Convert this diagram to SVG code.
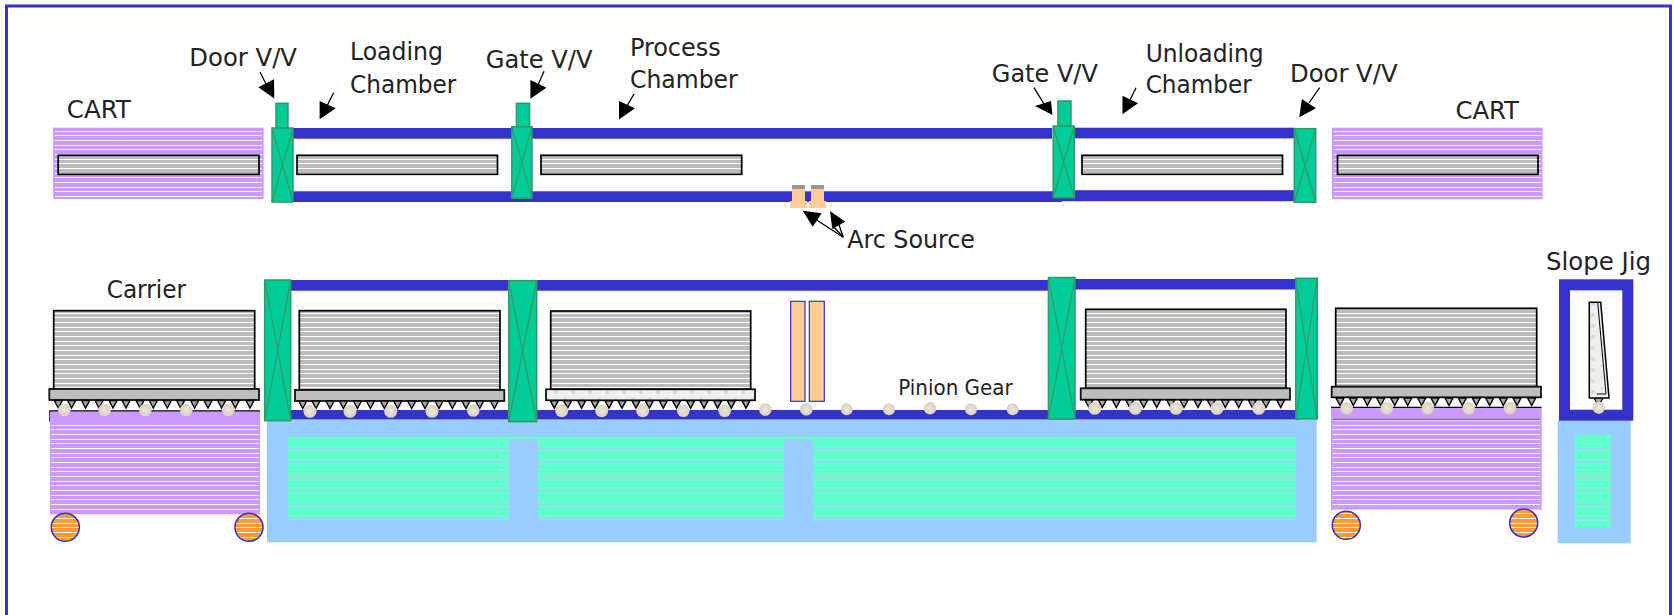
<svg xmlns="http://www.w3.org/2000/svg" xmlns:xlink="http://www.w3.org/1999/xlink" width="1674" height="615" viewBox="0 0 1674 615">
<style>
text{font-family:"DejaVu Sans Condensed","DejaVu Sans","Noto Sans",sans-serif;font-size:25px;fill:#222}
.bar{fill:#3333cc}
.valve{fill:#00cc99;stroke:#339966;stroke-width:1.5}
.x{fill:none;stroke:#339966;stroke-width:1.2}
.purple{fill:#cc99ff}
.blue{fill:#99ccff}
.wafer{fill:url(#gl);stroke:#000;stroke-width:1.7}
.plate{fill:#bdbdbd;stroke:#111;stroke-width:1.8}
.plateM{fill:url(#mott);stroke:#000;stroke-width:1.7}
.gear{fill:url(#gg)}
.wheel{fill:url(#ol);stroke:#3333cc;stroke-width:1.6}
.tan{fill:#ffcc99}
.target{fill:#ffcc99;stroke:#3333cc;stroke-width:1.2}
.head{fill:#000}
.shaft{stroke:#000;stroke-width:1.3;fill:none}
.tooth{fill:#a8a8a8;stroke:#000;stroke-width:1.4}
</style>
<defs>
<pattern id="pl" patternUnits="userSpaceOnUse" width="10" height="14"><rect width="10" height="14" fill="#cc99ff"/><rect y="0" width="10" height="1" fill="#fff"/><rect y="5" width="10" height="1" fill="#fff"/><rect y="9" width="10" height="1" fill="#fff"/></pattern>
<pattern id="gl" patternUnits="userSpaceOnUse" width="10" height="14"><rect width="10" height="14" fill="#bcbcbc"/><rect y="0" width="10" height="1" fill="#fff"/><rect y="5" width="10" height="1" fill="#fff"/><rect y="9" width="10" height="1" fill="#fff"/></pattern>
<pattern id="gnl" patternUnits="userSpaceOnUse" width="10" height="14"><rect width="10" height="14" fill="#66ffcc"/><rect y="0" width="10" height="1" fill="#8fdcec"/><rect y="5" width="10" height="1" fill="#8fdcec"/><rect y="9" width="10" height="1" fill="#8fdcec"/></pattern>
<pattern id="ol" patternUnits="userSpaceOnUse" width="10" height="14"><rect width="10" height="14" fill="#ff9933"/><rect y="0" width="10" height="1" fill="#fff"/><rect y="5" width="10" height="1" fill="#fff"/><rect y="9" width="10" height="1" fill="#fff"/></pattern>
<pattern id="mott" patternUnits="userSpaceOnUse" width="17" height="11"><rect width="17" height="11" fill="#efefef"/><circle cx="4" cy="3" r="1.6" fill="#dcdcdc"/><circle cx="12" cy="7" r="2" fill="#d8d8d8"/><circle cx="8" cy="9" r="1" fill="#fff"/></pattern>
<radialGradient id="gg"><stop offset="0" stop-color="#ece7dd"/><stop offset="0.75" stop-color="#ddd5c6"/><stop offset="1" stop-color="#d9d1c2"/></radialGradient>
<g id="teeth">
<polygon class="tooth" points="-4,0 4,0 0,7.5"/><polygon class="tooth" points="9.3,0 17.3,0 13.3,7.5"/><polygon class="tooth" points="23.3,0 31.3,0 27.3,7.5"/><polygon class="tooth" points="36.7,0 44.7,0 40.7,7.5"/><polygon class="tooth" points="50.7,0 58.7,0 54.7,7.5"/><polygon class="tooth" points="63.7,0 71.7,0 67.7,7.5"/><polygon class="tooth" points="77.7,0 85.7,0 81.7,7.5"/><polygon class="tooth" points="91,0 99,0 95,7.5"/><polygon class="tooth" points="105,0 113,0 109,7.5"/><polygon class="tooth" points="118.3,0 126.3,0 122.3,7.5"/><polygon class="tooth" points="132.3,0 140.3,0 136.3,7.5"/><polygon class="tooth" points="145.7,0 153.7,0 149.7,7.5"/><polygon class="tooth" points="159.3,0 167.3,0 163.3,7.5"/><polygon class="tooth" points="173,0 181,0 177,7.5"/><polygon class="tooth" points="187.7,0 195.7,0 191.7,7.5"/>
</g>
</defs>
<rect width="1674" height="615" fill="#fff"/>
<rect id="frame" x="6.5" y="6" width="1664" height="640" fill="none" stroke="#3333cc" stroke-width="3"/>

<g id="upper-chamber">
<rect class="bar" x="292" y="128" width="760" height="10.7"/>
<rect class="bar" x="292" y="191.3" width="770" height="10.7"/>
<rect class="bar" x="1074" y="127.7" width="221" height="10.7"/>
<rect class="bar" x="1062" y="190.2" width="233" height="11"/>
</g>
<g id="cart-top-left"><rect class="purple" x="53.2" y="127.7" width="210.4" height="71.3"/><rect fill="url(#pl)" x="55" y="129" width="207" height="69"/><rect class="wafer" x="58.2" y="155.3" width="200.8" height="19"/></g>
<g id="cart-top-right"><rect class="purple" x="1332" y="127.7" width="210.5" height="71.5"/><rect fill="url(#pl)" x="1334" y="129" width="207" height="69"/><rect class="wafer" x="1337.5" y="155.3" width="200.5" height="19"/></g>
<g id="wafer-loading"><rect class="wafer" x="297" y="155.3" width="200.5" height="19"/></g>
<g id="wafer-process"><rect class="wafer" x="541" y="155.3" width="200.7" height="19"/></g>
<g id="wafer-unloading"><rect class="wafer" x="1082" y="155.3" width="200.5" height="19"/></g>
<g id="door-vv-left"><rect class="valve" x="276" y="103.3" width="12" height="24.7"/><rect class="valve" x="272" y="128" width="21" height="74"/><path class="x" d="M272,128L293,202M293,128L272,202"/></g>
<g id="gate-vv-left"><rect class="valve" x="516.4" y="103.3" width="13.2" height="23.4"/><rect class="valve" x="511.8" y="126.7" width="20.2" height="71.6"/><path class="x" d="M511.8,126.7L532,198.3M532,126.7L511.8,198.3"/></g>
<g id="gate-vv-right"><rect class="valve" x="1057.9" y="101" width="13.1" height="25"/><rect class="valve" x="1053.2" y="126" width="21.1" height="71.7"/><path class="x" d="M1053.2,126L1074.3,197.7M1074.3,126L1053.2,197.7"/></g>
<g id="door-vv-right"><rect class="valve" x="1294.3" y="128.7" width="21.4" height="73.6"/><path class="x" d="M1294.3,128.7L1315.7,202.3M1315.7,128.7L1294.3,202.3"/></g>
<g id="arc-source">
<rect x="792" y="185" width="13" height="4" fill="#999"/><rect class="tan" x="792" y="189" width="13" height="12"/><rect class="tan" x="790" y="201" width="17" height="7"/>
<rect x="811" y="185" width="13" height="4" fill="#999"/><rect class="tan" x="811" y="189" width="13" height="12"/><rect class="tan" x="809" y="201" width="17" height="7"/>
</g>

<g id="base">
<rect class="blue" x="267" y="419.7" width="1049.7" height="122.6"/>
<rect fill="url(#gnl)" x="288" y="436.7" width="1008" height="83.3"/>
<rect class="blue" x="509" y="439" width="28.7" height="81"/>
<rect class="blue" x="784" y="439" width="29" height="81"/>
</g>
<g id="lower-chamber">
<rect class="bar" x="285" y="280" width="765" height="10.7"/>
<rect class="bar" x="1074" y="279" width="224" height="10.5"/>
<rect class="bar" x="285" y="410" width="1015" height="9.5"/>
</g>
<g id="target"><rect class="target" x="790.7" y="301.3" width="14.3" height="100"/><rect class="target" x="809.3" y="301.3" width="15" height="100"/></g>

<g id="cart-lower-left">
<path d="M50,421.7V411H259V419" fill="none" stroke="#000" stroke-width="1.5"/>
<rect class="purple" x="50" y="411.7" width="210" height="102.6"/><rect fill="url(#pl)" x="51.5" y="422" width="207" height="91"/>
<circle class="wheel" cx="65.3" cy="527.3" r="14"/><circle class="wheel" cx="249" cy="527.3" r="14"/>
</g>
<g id="carrier-a">
<rect class="wafer" x="53.7" y="310.7" width="201" height="78.3"/><rect class="plate" x="49.3" y="389" width="209.7" height="11"/>
<use xlink:href="#teeth" href="#teeth" x="58.3" y="400.5"/>
<circle class="gear" cx="64.3" cy="410" r="6.3"/><circle class="gear" cx="104.7" cy="410" r="6.3"/><circle class="gear" cx="145.3" cy="410" r="6.3"/><circle class="gear" cx="186.3" cy="410" r="6.3"/><circle class="gear" cx="228.3" cy="410" r="6.3"/>
</g>
<g id="carrier-b">
<rect class="wafer" x="299.3" y="310.7" width="200.7" height="79.3"/><rect class="plate" x="295" y="390" width="209.3" height="11"/>
<use xlink:href="#teeth" href="#teeth" x="302.7" y="401"/>
<circle class="gear" cx="310" cy="411.3" r="6.5"/><circle class="gear" cx="350" cy="411.3" r="6.5"/><circle class="gear" cx="390.7" cy="411.3" r="6.5"/><circle class="gear" cx="432" cy="411.3" r="6.5"/><circle class="gear" cx="473.3" cy="410.5" r="6.3"/>
</g>
<g id="carrier-c">
<rect class="wafer" x="550.7" y="311" width="200" height="78.3"/><rect class="plateM" x="546" y="389.3" width="209" height="11"/>
<use xlink:href="#teeth" href="#teeth" x="554.3" y="400.7"/>
<circle class="gear" cx="561.7" cy="410.7" r="6.5"/><circle class="gear" cx="601.7" cy="410.7" r="6.5"/><circle class="gear" cx="642.7" cy="410.7" r="6.5"/><circle class="gear" cx="683.3" cy="410.7" r="6.3"/><circle class="gear" cx="724.7" cy="410.7" r="6.3"/>
</g>
<g id="pinion-gears">
<circle class="gear" cx="765.3" cy="409.5" r="6.3"/><circle class="gear" cx="806.3" cy="409.3" r="6.3"/><circle class="gear" cx="846.7" cy="409.3" r="6"/><circle class="gear" cx="889" cy="409.3" r="6"/><circle class="gear" cx="930" cy="408.3" r="6.2"/><circle class="gear" cx="971" cy="409.3" r="6"/><circle class="gear" cx="1012.7" cy="409.3" r="6"/>
</g>
<g id="carrier-d">
<rect class="wafer" x="1085.7" y="309.3" width="200.3" height="79"/><rect class="plate" x="1080.7" y="388.3" width="209.3" height="11.4"/>
<use xlink:href="#teeth" href="#teeth" x="1089" y="400"/>
<circle class="gear" cx="1094.7" cy="408.3" r="6.5"/><circle class="gear" cx="1135.3" cy="408.3" r="6.5"/><circle class="gear" cx="1176" cy="408.3" r="6.5"/><circle class="gear" cx="1217" cy="408.3" r="6.5"/><circle class="gear" cx="1258.7" cy="408.3" r="6.5"/>
</g>
<g id="cart-lower-right">
<path d="M1331,407.5H1541.5" fill="none" stroke="#000" stroke-width="1.5"/>
<rect class="purple" x="1331" y="408.3" width="210.7" height="101.7"/><rect fill="url(#pl)" x="1333" y="420.5" width="207" height="89"/>
<path d="M1333,419.3H1540" stroke="#666" stroke-width="1"/>
<circle class="wheel" cx="1346.3" cy="525.3" r="14"/><circle class="wheel" cx="1523.7" cy="523" r="14"/>
</g>
<g id="carrier-e">
<rect class="wafer" x="1335.7" y="308.3" width="201" height="78.4"/><rect class="plate" x="1331.7" y="386.7" width="209.3" height="10.6"/>
<use xlink:href="#teeth" href="#teeth" x="1340" y="398"/>
<circle class="gear" cx="1346.7" cy="408.3" r="6.3"/><circle class="gear" cx="1386.7" cy="408.3" r="6.3"/><circle class="gear" cx="1427.7" cy="408.3" r="6.3"/><circle class="gear" cx="1468.7" cy="408.3" r="6.3"/><circle class="gear" cx="1510" cy="408" r="6.3"/>
</g>
<g id="valve-lower-1"><rect class="valve" x="264.7" y="280" width="26" height="140.7"/><path class="x" d="M264.7,280L290.7,420.7M290.7,280L264.7,420.7"/></g>
<g id="valve-lower-2"><rect class="valve" x="508.7" y="280.7" width="28" height="141"/><path class="x" d="M508.7,280.7L536.7,421.7M536.7,280.7L508.7,421.7"/></g>
<g id="valve-lower-3"><rect class="valve" x="1048.4" y="277.5" width="26.6" height="141.5"/><path class="x" d="M1048.4,277.5L1075,419M1075,277.5L1048.4,419"/></g>
<g id="valve-lower-4"><rect class="valve" x="1295.7" y="278.3" width="21.6" height="140.7"/><path class="x" d="M1295.7,278.3L1317.3,419M1317.3,278.3L1295.7,419"/></g>

<g id="slope-jig">
<rect class="blue" x="1557.7" y="420.3" width="73" height="123"/>
<rect fill="url(#gnl)" x="1575" y="434" width="36.3" height="93.3"/>
<rect x="1564.5" y="284.8" width="63.3" height="130.4" fill="none" stroke="#3333cc" stroke-width="11"/>
<polygon points="1594,398 1598.5,405.7 1603,398" fill="#a8a8a8" stroke="#000" stroke-width="1.2"/>
<circle class="gear" cx="1598.7" cy="407.7" r="6.2"/>
<polygon points="1589.3,302.3 1600.7,302.3 1609,398 1589.3,398" fill="url(#mott)" stroke="#000" stroke-width="1.5"/>
<path d="M1597.7,302.3L1606,394H1597" fill="none" stroke="#000" stroke-width="1"/>
</g>

<g id="connectors">
<path class="shaft" d="M260,72L268,88"/><polygon class="head" points="274.3,98.5 258.3,87.3 274,79.3"/>
<path class="shaft" d="M333.6,92.7L327,106"/><polygon class="head" points="319.6,119.3 319.6,101 335.7,108.3"/>
<path class="shaft" d="M544,71.3L538,85"/><polygon class="head" points="530.4,98.7 530.4,80 546.4,87.7"/>
<path class="shaft" d="M634,94L627,106"/><polygon class="head" points="619,119.6 619,101 635,108.3"/>
<path class="shaft" d="M1034,87.7L1044,104"/><polygon class="head" points="1052.5,115 1035,106 1051,101"/>
<path class="shaft" d="M1136,87.7L1130,100"/><polygon class="head" points="1122.5,114.3 1122.5,95.7 1138,103.3"/>
<path class="shaft" d="M1319.6,87.7L1309,103"/><polygon class="head" points="1299.3,117.3 1301.8,99 1316,108.3"/>
<path class="shaft" d="M843.3,237.3L815,219"/><polygon class="head" points="802.7,210.7 812.7,226.7 821.7,213.3"/>
<path class="shaft" d="M843.3,237.3L832,225M843.3,237.3L838,222"/><polygon class="head" points="830,211 832.3,229 845.3,221.7"/>
</g>

<g id="labels">
<text x="189.3" y="66" textLength="107.7" lengthAdjust="spacingAndGlyphs">Door V/V</text>
<text x="350" y="60" textLength="93" lengthAdjust="spacingAndGlyphs">Loading</text>
<text x="350" y="92.7" textLength="106.4" lengthAdjust="spacingAndGlyphs">Chamber</text>
<text x="66.8" y="118" textLength="63.9" lengthAdjust="spacingAndGlyphs">CART</text>
<text x="485.7" y="68.3" textLength="106.8" lengthAdjust="spacingAndGlyphs">Gate V/V</text>
<text x="630" y="55.5" textLength="90.6" lengthAdjust="spacingAndGlyphs">Process</text>
<text x="630" y="87.5" textLength="107.7" lengthAdjust="spacingAndGlyphs">Chamber</text>
<text x="991.8" y="82" textLength="106" lengthAdjust="spacingAndGlyphs">Gate V/V</text>
<text x="1145.7" y="61.7" textLength="117.9" lengthAdjust="spacingAndGlyphs">Unloading</text>
<text x="1145.7" y="93.3" textLength="106.1" lengthAdjust="spacingAndGlyphs">Chamber</text>
<text x="1290" y="82" textLength="107.5" lengthAdjust="spacingAndGlyphs">Door V/V</text>
<text x="1455.4" y="118.7" textLength="63.6" lengthAdjust="spacingAndGlyphs">CART</text>
<text x="847.3" y="248.3" textLength="127.7" lengthAdjust="spacingAndGlyphs">Arc Source</text>
<text x="106.7" y="298.3" textLength="79.3" lengthAdjust="spacingAndGlyphs">Carrier</text>
<text x="898.3" y="395" textLength="114.4" lengthAdjust="spacingAndGlyphs" style="font-size:21px">Pinion Gear</text>
<text x="1546" y="270" textLength="105" lengthAdjust="spacingAndGlyphs">Slope Jig</text>
</g>
</svg>
